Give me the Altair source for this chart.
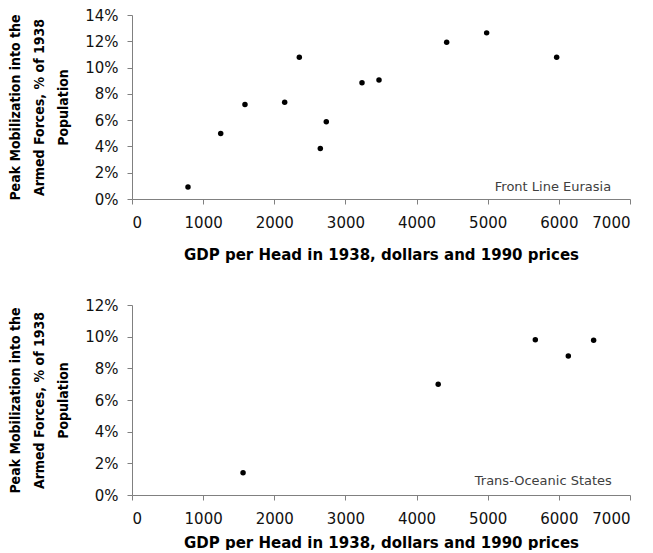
import altair as alt
import pandas as pd

# Front Line Eurasia
front_gdp = [787, 1247, 1588, 2146, 2352, 2647, 2731, 3233, 3472, 4423, 4985, 5969]
front_mob = [0.0091, 0.0498, 0.0719, 0.0736, 0.1079, 0.0385, 0.0587, 0.0884, 0.0906, 0.1193, 0.1264, 0.1079]

# Trans-Oceanic States
trans_gdp = [1561, 4304, 5669, 6133, 6489]
trans_mob = [0.0141, 0.0699, 0.0981, 0.0878, 0.0977]

x_ticks = [0, 1000, 2000, 3000, 4000, 5000, 6000, 7000]
y_ticks_top = [0, 0.02, 0.04, 0.06, 0.08, 0.10, 0.12, 0.14]
y_ticks_bottom = [0, 0.02, 0.04, 0.06, 0.08, 0.10, 0.12]

labels = ["Front Line Eurasia", "Trans-Oceanic States"]
label_gdp = [6735, 6745]
label_mob = [0.0095, 0.0088]

x_title = "GDP per Head in 1938, dollars and 1990 prices"
y_title = ["Peak Mobilization into the", "Armed Forces, % of 1938", "Population"]


def panel(xs, ys, yticks, label, lx, ly, h, x_title_pad):
    df = pd.DataFrame({"gdp": xs, "mob": ys})
    x_enc = alt.X(
        "gdp:Q",
        scale=alt.Scale(domain=[0, 7000], nice=False),
        axis=alt.Axis(values=x_ticks, title=x_title, format="d",
                      labelOverlap=False, titlePadding=x_title_pad),
    )
    y_enc = alt.Y(
        "mob:Q",
        scale=alt.Scale(domain=[0, yticks[-1]], nice=False),
        axis=alt.Axis(values=yticks, format=".0%", title=y_title,
                      labelOverlap=False),
    )
    pts = alt.Chart(df).mark_circle(size=30, color="black", opacity=1).encode(
        x=x_enc, y=y_enc
    )
    lab = pd.DataFrame({"gdp": [lx], "mob": [ly], "t": [label]})
    txt = alt.Chart(lab).mark_text(
        align="right", baseline="middle", fontSize=13, color="#404040",
        font="DejaVu Sans"
    ).encode(x=x_enc, y=y_enc, text="t:N")
    return alt.layer(pts, txt).properties(width=498, height=h)


top = panel(front_gdp, front_mob, y_ticks_top, labels[0], label_gdp[0], label_mob[0], 184, 17)
bottom = panel(trans_gdp, trans_mob, y_ticks_bottom, labels[1], label_gdp[1], label_mob[1], 190, 9)

chart = (
    alt.vconcat(top, bottom, spacing=36)
    .properties(padding={"left": 0, "top": 0, "right": 5, "bottom": 0})
    .configure_view(stroke=None)
    .configure_axis(
        grid=False,
        domainColor="#808080",
        tickColor="#808080",
        tickSize=5,
        labelFont="DejaVu Sans",
        labelFontSize=15,
        labelColor="#111111",
    )
    .configure_axisX(
        labelPadding=11,
        titleFont="DejaVu Sans",
        titleFontWeight="bold",
        titleFontSize=15,
        titleColor="#000000",
    )
    .configure_axisY(
        labelPadding=9,
        titleFont="DejaVu Sans Condensed",
        titleFontWeight="bold",
        titleFontSize=14,
        titleColor="#000000",
        titleLineHeight=24,
        titlePadding=14,
    )
)

chart.save("out.html", embed_options={"renderer": "svg", "actions": False})
